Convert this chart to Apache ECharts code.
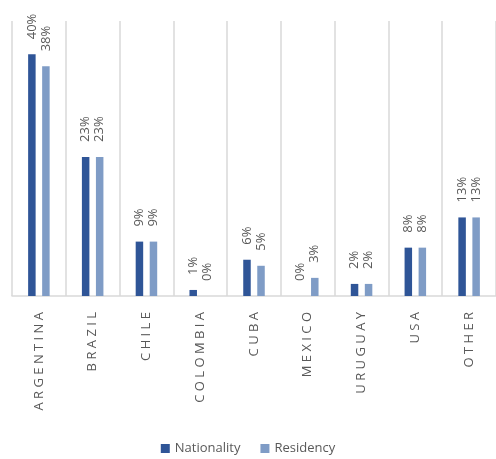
<!DOCTYPE html>
<html>
<head>
<meta charset="utf-8">
<script src="https://cdn.jsdelivr.net/npm/echarts@6/dist/echarts.min.js"></script>
<style>
  html, body { margin: 0; padding: 0; background: #ffffff; }
  #chart { width: 496px; height: 459px; }
</style>
</head>
<body>
<div id="chart"></div>
<script>
// Share of people by country, by nationality and by residency (percent)
const countries = ['ARGENTINA', 'BRAZIL', 'CHILE', 'COLOMBIA', 'CUBA', 'MEXICO', 'URUGUAY', 'USA', 'OTHER'];
const nationality = [40, 23, 9, 1, 6, 0, 2, 8, 13];
const residency = [38, 23, 9, 0, 5, 3, 2, 8, 13];
const seriesNames = ['Nationality', 'Residency'];

const FONT = '"Open Sans", sans-serif';
const TEXT = '#595959';
const GRID = '#d9d9d9';

// Space out the letters of the category names
const spaced = s => s.split('').join(' ');

const labelStyle = {
  show: true,
  position: 'top',
  rotate: 90,
  align: 'left',
  verticalAlign: 'middle',
  distance: 15,
  formatter: '{c}%',
  color: TEXT,
  fontFamily: FONT,
  fontSize: 13
};

const chart = echarts.init(document.getElementById('chart'), null, { renderer: 'canvas' });
chart.setOption({
  animation: false,
  backgroundColor: '#ffffff',
  grid: { left: 12, right: -8, top: 21, bottom: 163, containLabel: false },
  legend: {
    top: 442,
    left: 'center',
    padding: 0,
    itemWidth: 9,
    itemHeight: 9,
    itemGap: 20,
    icon: 'rect',
    textStyle: { color: TEXT, fontFamily: FONT, fontSize: 13 },
    data: seriesNames
  },
  xAxis: {
    type: 'category',
    data: countries,
    axisLine: { show: true, lineStyle: { color: GRID, width: 1.5 } },
    axisTick: { show: false },
    splitLine: { show: true, lineStyle: { color: GRID, width: 1.5 } },
    axisLabel: {
      interval: 0,
      rotate: 90,
      margin: 16,
      color: TEXT,
      fontFamily: FONT,
      fontSize: 13,
      formatter: v => spaced(v)
    }
  },
  yAxis: {
    type: 'value',
    min: 0,
    max: 45.5,
    show: false,
    splitLine: { show: false }
  },
  series: [
    {
      name: seriesNames[0],
      type: 'bar',
      data: nationality,
      barWidth: 7.5,
      barGap: '87%',
      itemStyle: { color: '#2f5597' },
      label: labelStyle
    },
    {
      name: seriesNames[1],
      type: 'bar',
      data: residency,
      barWidth: 7.5,
      itemStyle: { color: '#7f9cc6' },
      label: labelStyle
    }
  ]
});
</script>
</body>
</html>
